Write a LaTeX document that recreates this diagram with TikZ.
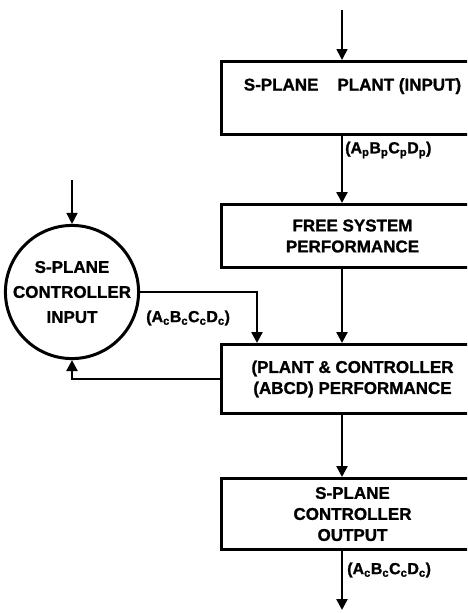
\documentclass[tikz,border=0pt]{standalone}
\usepackage{fontspec}
\setmainfont[BoldFeatures={FakeBold=1.2}]{Liberation Sans}
\usetikzlibrary{arrows.meta}

\begin{document}
\begin{tikzpicture}[x=1pt, y=-1pt, >={Triangle[width=11pt,length=11pt]},
  blk/.style={draw, line width=3pt, minimum width=262pt, anchor=north west, inner sep=0pt, align=center, font=\fontsize{17}{21}\selectfont\bfseries},
  flow/.style={->, line width=2.4pt},
  lbl/.style={anchor=west, inner sep=0pt, font=\fontsize{16}{18}\selectfont\bfseries}]
\useasboundingbox (0,0) rectangle (467,613);
\clip (0,0) rectangle (467,613);
\node[blk, minimum height=73pt] (plant) at (220,60) {S-PLANE\hspace{19pt}PLANT (INPUT)\\ \strut};
\node[blk, minimum height=63pt] (free) at (220,203) {FREE SYSTEM\\PERFORMANCE};
\node[blk, minimum height=69pt] (closed) at (220,343) {(PLANT \& CONTROLLER\\(ABCD) PERFORMANCE};
\node[blk, minimum height=71pt] (out) at (220,477) {S-PLANE\\CONTROLLER\\OUTPUT};
\node[draw, circle, line width=3pt, minimum size=124pt, inner sep=0pt, align=center, font=\fontsize{17}{25}\selectfont\bfseries] (ctrl) at (72,292) {S-PLANE\\CONTROLLER\\INPUT};
\node[lbl] (pdata) at (345,150) {(A\textsubscript{p}B\textsubscript{p}C\textsubscript{p}D\textsubscript{p})};
\node[lbl] (cdata) at (146,318) {(A\textsubscript{c}B\textsubscript{c}C\textsubscript{c}D\textsubscript{c})};
\node[lbl] (odata) at (347,570) {(A\textsubscript{c}B\textsubscript{c}C\textsubscript{c}D\textsubscript{c})};
\coordinate (spine) at (342,0);
\coordinate (tap) at (257,0);
\coordinate (start) at (342,10);
\coordinate (finish) at (342,610);
\coordinate (cin) at (72,180);
\draw[flow, line width=1.6pt] (start) -- (plant.north -| spine);
\draw[flow] (plant.south -| spine) -- (free.north -| spine);
\draw[flow] (free.south -| spine) -- (closed.north -| spine);
\draw[flow] (closed.south -| spine) -- (out.north -| spine);
\draw[flow] (out.south -| spine) -- (finish);
\draw[flow, line width=1.6pt] (cin) -- (ctrl.north);
\draw[flow] (ctrl.east) -| (closed.north -| tap);
\draw[flow] (closed.west) -| (ctrl.south);
\end{tikzpicture}
\end{document}
